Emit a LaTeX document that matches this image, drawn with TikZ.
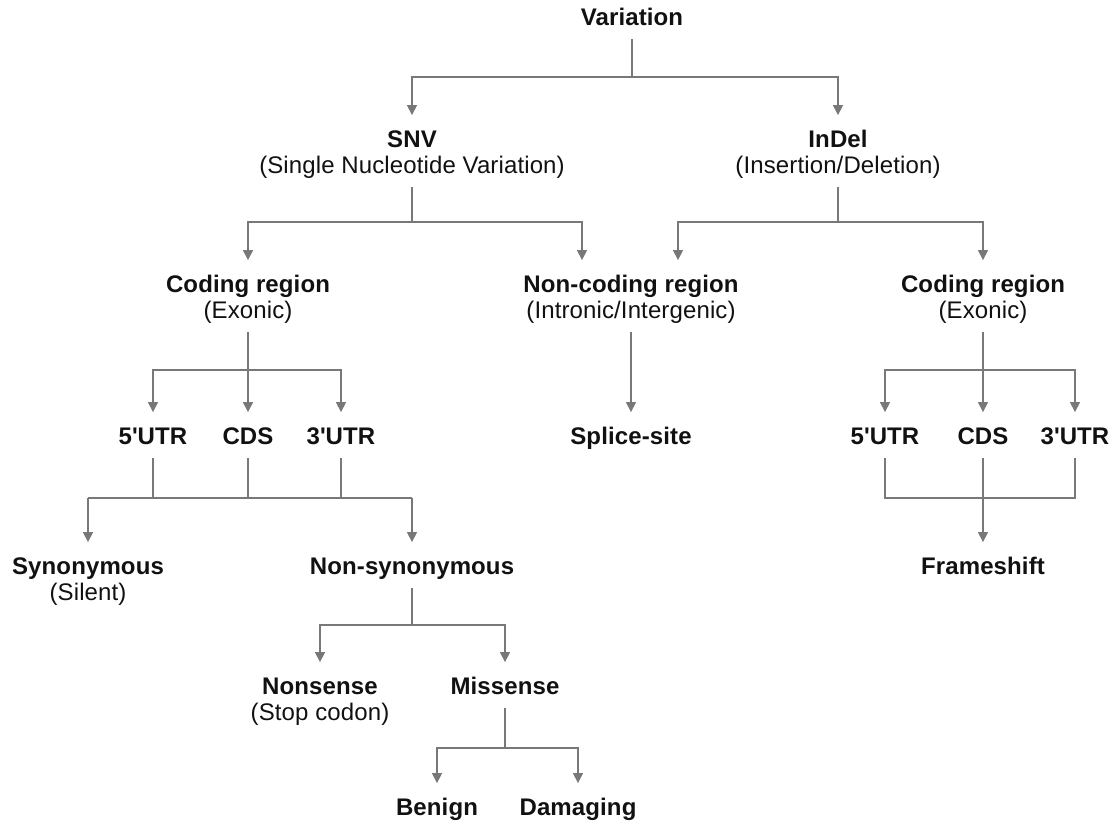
\documentclass[tikz,border=0pt]{standalone}
\usepackage{fontspec}
\setmainfont{Liberation Sans}[LetterSpace=0.5]
\usetikzlibrary{arrows.meta}
\definecolor{linegray}{HTML}{787878}
\definecolor{textblack}{HTML}{111111}

\tikzset{
  title/.style={inner sep=0pt, text height=9pt, text depth=2.5pt, text=textblack,
    font=\fontsize{12pt}{13pt}\selectfont\bfseries},
  sub/.style={title, font=\fontsize{12pt}{13pt}\selectfont},
  bar/.style={draw=linegray, line width=0.6pt},
  stem/.style={bar, shorten <=4pt},
  arr/.style={bar, -{Triangle[width=5pt,length=5pt]}, shorten >=7pt}
}

\begin{document}
\begin{tikzpicture}[x=0.5pt,y=-0.5pt]
\useasboundingbox (0,0) rectangle (1115,826);

\node[title] (var) at (632,19) {Variation};
\node[title] (snv) at (412,141) {SNV};
\node[sub] (snvsub) at (412,167) {(Single Nucleotide Variation)};
\node[title] (indel) at (838,141) {InDel};
\node[sub] (indelsub) at (838,167) {(Insertion/Deletion)};

\node[title] (codl) at (248,286) {Coding region};
\node[sub] (codlsub) at (248,312) {(Exonic)};
\node[title] (noncod) at (631,286) {Non-coding region};
\node[sub] (noncodsub) at (631,312) {(Intronic/Intergenic)};
\node[title] (codr) at (983,286) {Coding region};
\node[sub] (codrsub) at (983,312) {(Exonic)};

\node[title] (utrfl) at (153,438) {5\textquotesingle UTR};
\node[title] (cdsl) at (248,438) {CDS};
\node[title] (utrtl) at (341,438) {3\textquotesingle UTR};
\node[title] (splice) at (631,438) {Splice-site};
\node[title] (utrfr) at (885,438) {5\textquotesingle UTR};
\node[title] (cdsr) at (983,438) {CDS};
\node[title] (utrtr) at (1075,438) {3\textquotesingle UTR};

\node[title] (syn) at (88,568) {Synonymous};
\node[sub] (synsub) at (88,594) {(Silent)};
\node[title] (nsyn) at (412,568) {Non-synonymous};
\node[title] (frame) at (983,568) {Frameshift};

\node[title] (nons) at (320,688) {Nonsense};
\node[sub] (nonssub) at (320,714) {(Stop codon)};
\node[title] (miss) at (505,688) {Missense};
\node[title] (benign) at (437,809) {Benign};
\node[title] (damag) at (578,809) {Damaging};

\coordinate (varj) at (632,77);
\coordinate (snvj) at (412,222);
\coordinate (indelj) at (838,222);
\coordinate (codlj) at (248,370);
\coordinate (codrj) at (983,370);
\coordinate (synj) at (88,498);
\coordinate (nsynj) at (412,498);
\coordinate (fsj) at (983,498);
\coordinate (nsj) at (412,625);
\coordinate (misj) at (505,748);

\draw[stem] (var) -- (varj);
\draw[arr] (varj) -| (snv.north);
\draw[arr] (varj) -| (indel.north);

\draw[stem] (snvsub) -- (snvj);
\draw[arr] (snvj) -| (codl.north);
\draw[arr] (snvj) -| ([xshift=-24.5pt]noncod.north);
\draw[stem] (indelsub) -- (indelj);
\draw[arr] (indelj) -| ([xshift=23.5pt]noncod.north);
\draw[arr] (indelj) -| (codr.north);

\draw[stem] (codlsub) -- (codlj);
\draw[arr] (codlj) -| (utrfl.north);
\draw[arr] (codlj) -- (cdsl.north);
\draw[arr] (codlj) -| (utrtl.north);
\draw[stem,arr] (noncodsub) -- (splice);
\draw[stem] (codrsub) -- (codrj);
\draw[arr] (codrj) -| (utrfr.north);
\draw[arr] (codrj) -- (cdsr.north);
\draw[arr] (codrj) -| (utrtr.north);

\foreach \n in {utrfl,cdsl,utrtl}
  \draw[stem] (\n) -- (\n |- synj);
\draw[bar] (synj) -- (nsynj);
\draw[arr] (synj) -- (syn);
\draw[arr] (nsynj) -- (nsyn);

\draw[stem,shorten >=4pt] (utrfr) -- (utrfr |- fsj) -- (utrtr |- fsj) -- (utrtr);
\draw[stem] (cdsr) -- (fsj);
\draw[arr] (fsj) -- (frame);

\draw[stem] (nsyn) -- (nsj);
\draw[arr] (nsj) -| (nons.north);
\draw[arr] (nsj) -| (miss.north);
\draw[stem] (miss) -- (misj);
\draw[arr] (misj) -| (benign.north);
\draw[arr] (misj) -| (damag.north);

\end{tikzpicture}
\end{document}
